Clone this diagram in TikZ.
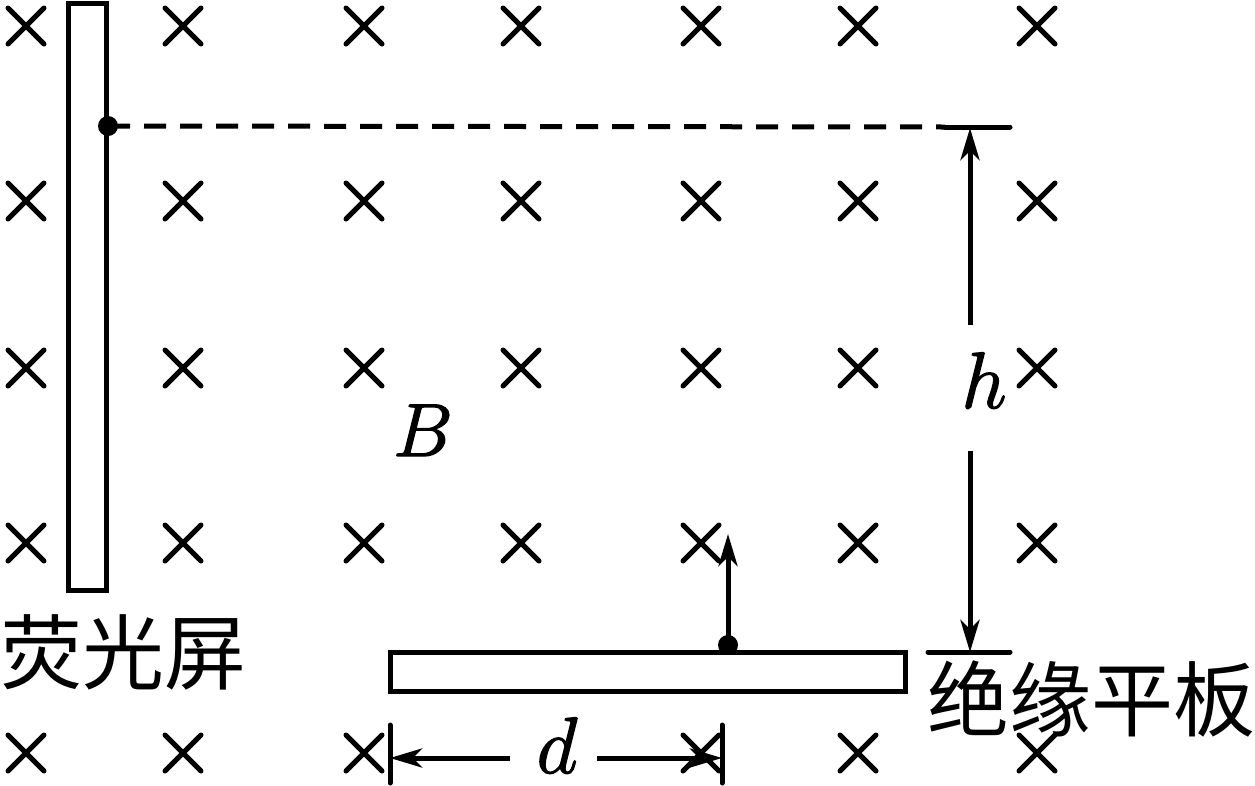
\documentclass[tikz,border=0pt]{standalone}
\usepackage{fix-cm}
\usepackage{fontspec}
\usetikzlibrary{arrows.meta}
\newfontfamily\cjk{Noto Sans CJK SC}[Scale=1]
\newcommand{\heavytext}[1]{\special{pdf:code q 2 Tr 1.3 w}#1\special{pdf:code 0 Tr Q}}
\tikzset{
  wire/.style={line width=5pt,black},
  crossmark/.style={line width=5pt,line cap=round,black},
  tick/.style={line width=5pt,line cap=round},
  arrowed/.style={wire,-{Stealth[length=32pt,width=19pt,inset=9pt]}},
  dotmark/.style={circle,fill=black,inner sep=0pt,minimum size=20pt},
  cjklabel/.style={inner sep=0pt,font=\cjk\fontsize{82}{82}\selectfont},
  symlabel/.style={inner sep=0pt,font=\fontsize{80}{80}\selectfont}
}
\begin{document}
\begin{tikzpicture}[x=1pt,y=-1pt]
\useasboundingbox (0,0) rectangle (1255,785);
% field crosses
\foreach \x/\y in {26/26,183/26,364/26,521/26,701/26,858/26,1037/26,
  26/201,183/201,364/201,521/201,701/201,858/201,1037/201,
  26/368,183/368,364/368,521/368,701/368,858/368,1037/368,
  26/543,183/543,364/543,521/543,701/543,858/543,1037/543,
  26/753,183/753,364/753,701/753,858/753,1037/753}{
  \draw[crossmark] (\x-18,\y-18) -- (\x+18,\y+18) (\x-18,\y+18) -- (\x+18,\y-18);
}
% screen and plate
\node[draw,wire,fill=none,inner sep=0pt,minimum width=38pt,minimum height=587pt] (screen) at (87,296.5) {};
\node[draw,wire,fill=none,inner sep=0pt,minimum width=515pt,minimum height=39pt] (plate) at (647.5,671.5) {};
% dots
\node[dotmark] (dotA) at (108,126) {};
\node[dotmark] (dotB) at (728,645) {};
% reference lines
\coordinate (topL) at (945,127);
\coordinate (topR) at (1010,127);
\coordinate (botL) at (928,652);
\coordinate (botR) at (1010,652);
\draw[wire,dash pattern=on 22pt off 14pt] (dotA.center) -- (topL);
\draw[tick] (topL) -- (topR);
\draw[tick] (botL) -- (botR);
% velocity arrow
\coordinate (velTip) at (728,534);
\draw[arrowed] (dotB.center) -- (velTip);
% labels
\node[symlabel,anchor=base] (h) at (984,408) {\heavytext{$h$}};
\node[symlabel,anchor=base] (d) at (557,773) {\heavytext{$d$}};
\node[symlabel,anchor=base,font=\fontsize{75}{75}\selectfont] (B) at (423,456) {\heavytext{$B$}};
\node[cjklabel,anchor=center] (screenlabel) at (123,652) {荧光屏};
\node[cjklabel,anchor=center] (platelabel) at (1091,699) {绝缘平板};
% h dimension
\coordinate (hTop) at (970,128);
\coordinate (hBot) at (970,652);
\coordinate (hA) at (970,325);
\coordinate (hB) at (970,451);
\draw[arrowed] (hA) -- (hTop);
\draw[arrowed] (hB) -- (hBot);
% d dimension
\coordinate (dL) at (390,758);
\coordinate (dR) at (722,758);
\coordinate (dA) at (510,758);
\coordinate (dB) at (597,758);
\draw[tick] (390,725) -- (390,783);
\draw[tick] (722,725) -- (722,783);
\draw[arrowed] (dA) -- (dL);
\draw[arrowed] (dB) -- (dR);
\end{tikzpicture}
\end{document}
